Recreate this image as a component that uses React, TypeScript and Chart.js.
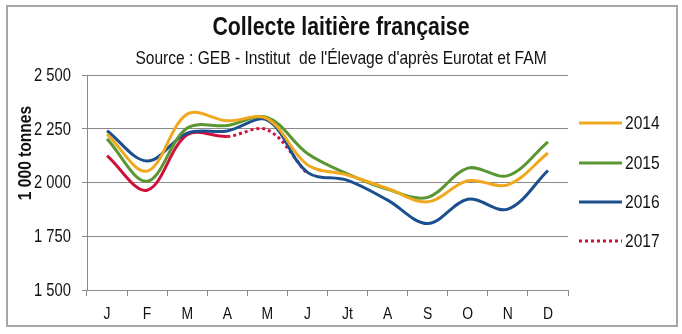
import React, { useEffect, useRef } from 'react';
import { Chart, registerables } from 'chart.js';

Chart.register(...registerables);

// Arial Narrow is not installed: Liberation Sans (Arial metrics) compressed horizontally
const FONT = '"Liberation Sans", Arial, sans-serif';
const NARROW = 0.82;

const TITLE = 'Collecte laitière française';
const SUBTITLE = "Source : GEB - Institut  de l'Élevage d'après Eurotat et FAM";
const Y_TITLE = '1 000 tonnes';

const MONTHS = ['J', 'F', 'M', 'A', 'M', 'J', 'Jt', 'A', 'S', 'O', 'N', 'D'];
const Y_TICKS = [1500, 1750, 2000, 2250, 2500];
const Y_MIN = 1500;
const Y_MAX = 2500;
const Y_STEP = 250;

const SERIES_NAMES = ['2014', '2015', '2016', '2017'];
const S2014 = [2225, 2053, 2318, 2287, 2297, 2082, 2035, 1972, 1910, 2008, 1989, 2137];
const S2015 = [2203, 2006, 2253, 2265, 2303, 2135, 2040, 1968, 1931, 2067, 2032, 2189];
const S2016 = [2241, 2100, 2230, 2240, 2290, 2047, 2010, 1918, 1809, 1922, 1876, 2056];
const S2017 = [2125, 1964, 2222, 2214, 2245, 2040];

const COLORS = ['#F0A81E', '#5A9632', '#1B4F8F', '#D0103A'];
const DOT = [3, 3];
const GRID = '#8A8A8A';
const TEXT = '#111111';

function fmt(v: number): string {
  const th = Math.floor(v / 1000);
  const rest = String(v % 1000).padStart(3, '0');
  return `${th} ${rest}`;
}

function narrowText(
  ctx: CanvasRenderingContext2D,
  text: string,
  x: number,
  y: number,
  font: string,
  align: CanvasTextAlign,
  baseline: CanvasTextBaseline,
  rotate = 0
) {
  ctx.save();
  ctx.translate(x, y);
  if (rotate) ctx.rotate(rotate);
  ctx.scale(NARROW, 1);
  ctx.font = font;
  ctx.textAlign = align;
  ctx.textBaseline = baseline;
  ctx.fillStyle = TEXT;
  ctx.fillText(text, 0, 0);
  ctx.restore();
}

const decor = {
  id: 'decor',
  beforeDraw(chart: any) {
    const { ctx } = chart;
    ctx.save();
    ctx.fillStyle = '#ffffff';
    ctx.fillRect(0, 0, chart.width, chart.height);
    ctx.strokeStyle = '#A6A6A6';
    ctx.lineWidth = 2;
    ctx.strokeRect(7, 6, 670, 320);
    ctx.restore();
  },
  afterDraw(chart: any) {
    const { ctx } = chart;
    narrowText(ctx, TITLE, 341, 35, `bold 26px ${FONT}`, 'center', 'alphabetic');
    narrowText(ctx, SUBTITLE, 341, 64, `19px ${FONT}`, 'center', 'alphabetic');
    narrowText(ctx, Y_TITLE, 26, 153, `bold 19px ${FONT}`, 'center', 'middle', -Math.PI / 2);

    // tick labels
    const ys = chart.scales.y;
    Y_TICKS.forEach((v) => {
      narrowText(ctx, fmt(v), 71, ys.getPixelForValue(v) + 1, `18px ${FONT}`, 'right', 'middle');
    });
    const xs = chart.scales.x;
    MONTHS.forEach((m, i) => {
      narrowText(ctx, m, xs.getPixelForValue(i), 314, `17px ${FONT}`, 'center', 'middle');
    });

    // legend
    const ly = [123, 163, 202, 241];
    chart.data.datasets.forEach((ds: any, i: number) => {
      const y = ly[i];
      ctx.save();
      ctx.strokeStyle = ds.borderColor;
      ctx.lineWidth = 3;
      ctx.setLineDash(ds.legendDash || []);
      ctx.beginPath();
      ctx.moveTo(579, y);
      ctx.lineTo(622, y);
      ctx.stroke();
      ctx.restore();
      narrowText(ctx, ds.label, 625, y + 1, `19px ${FONT}`, 'left', 'middle');
    });
  },
};

export default function App() {
  const ref = useRef<HTMLCanvasElement>(null);

  useEffect(() => {
    if (!ref.current) return;
    const values = [S2014, S2015, S2016, S2017];
    const chart = new Chart(ref.current, {
      type: 'line',
      data: {
        labels: MONTHS,
        datasets: values.map((v, i) => ({
          label: SERIES_NAMES[i],
          data: v,
          borderColor: COLORS[i],
          backgroundColor: COLORS[i],
          borderWidth: 3,
          pointRadius: 0,
          tension: 0.35,
          fill: false,
          legendDash: i === 3 ? DOT : [],
          segment:
            i === 3
              ? { borderDash: (c: any) => (c.p0DataIndex >= 3 ? DOT : undefined) }
              : undefined,
        })) as any,
      },
      options: {
        responsive: false,
        devicePixelRatio: 1,
        animation: false,
        events: [],
        layout: { padding: { left: 0, right: 114, top: 75, bottom: 0 } },
        plugins: {
          legend: { display: false },
          title: { display: false },
          tooltip: { enabled: false },
        },
        scales: {
          x: {
            offset: true,
            grid: {
              offset: true,
              drawOnChartArea: false,
              drawTicks: true,
              tickLength: 6,
              color: GRID,
              lineWidth: 1,
            },
            border: { display: true, color: GRID, width: 1 },
            ticks: { display: false, autoSkip: false, maxRotation: 0 },
            afterFit: (s: any) => {
              s.height = 44;
            },
          },
          y: {
            min: Y_MIN,
            max: Y_MAX,
            grid: {
              color: GRID,
              lineWidth: 1,
              drawTicks: true,
              tickLength: 5,
            },
            border: { display: true, color: GRID, width: 1 },
            ticks: { display: false, stepSize: Y_STEP },
            afterFit: (s: any) => {
              s.width = 87;
            },
          },
        },
      },
      plugins: [decor],
    });
    return () => chart.destroy();
  }, []);

  return (
    <div style={{ position: 'absolute', left: 0, top: 0, width: 682, height: 334 }}>
      <canvas ref={ref} width={682} height={334} style={{ display: 'block' }} />
    </div>
  );
}
